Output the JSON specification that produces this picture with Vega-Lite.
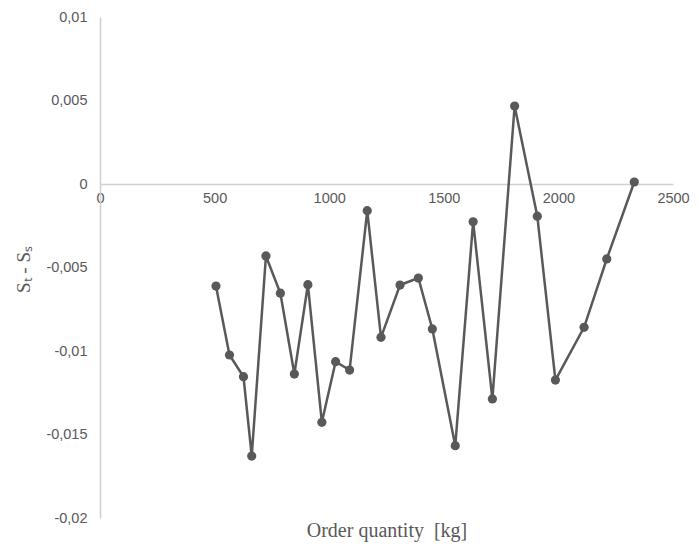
{
  "$schema": "https://vega.github.io/schema/vega-lite/v6.json",
  "width": 573,
  "height": 501,
  "autosize": {"type": "none"},
  "padding": {"left": 100, "top": 17, "right": 26, "bottom": 32},
  "background": "white",
  "data": {
    "values": [
      {"q": 506, "d": -0.00611},
      {"q": 565, "d": -0.01024},
      {"q": 626, "d": -0.01154},
      {"q": 662, "d": -0.01629},
      {"q": 724, "d": -0.00431},
      {"q": 787, "d": -0.00654},
      {"q": 848, "d": -0.01138},
      {"q": 907, "d": -0.00603},
      {"q": 968, "d": -0.01427},
      {"q": 1028, "d": -0.01064},
      {"q": 1089, "d": -0.01114},
      {"q": 1166, "d": -0.0016},
      {"q": 1226, "d": -0.00918},
      {"q": 1309, "d": -0.00605},
      {"q": 1389, "d": -0.00563},
      {"q": 1450, "d": -0.00868},
      {"q": 1550, "d": -0.01567},
      {"q": 1628, "d": -0.00226},
      {"q": 1712, "d": -0.01287},
      {"q": 1809, "d": 0.00467},
      {"q": 1908, "d": -0.00193},
      {"q": 1987, "d": -0.01174},
      {"q": 2112, "d": -0.00858},
      {"q": 2211, "d": -0.00449},
      {"q": 2331, "d": 0.00012}
    ]
  },
  "encoding": {
    "x": {
      "field": "q",
      "type": "quantitative",
      "scale": {"domain": [0, 2500], "nice": false, "zero": false},
      "axis": {
        "title": "Order quantity\u00a0 [kg]",
        "orient": "bottom",
        "offset": -334,
        "values": [0, 500, 1000, 1500, 2000, 2500],
        "format": "d",
        "grid": false,
        "ticks": false,
        "domainColor": "#d0d0d0",
        "domainWidth": 1.5,
        "labelFont": "Liberation Sans",
        "labelFontSize": 14.5,
        "labelColor": "#595959",
        "labelPadding": 7,
        "labelFlush": false,
        "titleFont": "Liberation Serif",
        "titleFontSize": 20,
        "titleFontWeight": "normal",
        "titleColor": "#595959",
        "titleY": 352,
        "titleBaseline": "alphabetic"
      }
    },
    "y": {
      "field": "d",
      "type": "quantitative",
      "scale": {"domain": [-0.02, 0.01], "nice": false, "zero": false},
      "axis": {
        "title": "Sₜ - Sₛ",
        "values": [-0.02, -0.015, -0.01, -0.005, 0, 0.005, 0.01],
        "labelExpr": "replace(toString(datum.value), '.', ',')",
        "grid": false,
        "ticks": false,
        "domainColor": "#d0d0d0",
        "domainWidth": 1.5,
        "labelFont": "Liberation Sans",
        "labelFontSize": 14.5,
        "labelColor": "#595959",
        "labelPadding": 13,
        "labelFlush": false,
        "titleFont": "Liberation Serif",
        "titleFontSize": 19,
        "titleFontWeight": "normal",
        "titleColor": "#595959",
        "titleX": -77,
        "titleY": 252,
        "titleAlign": "center",
        "titleBaseline": "middle",
        "titleAngle": 270
      }
    }
  },
  "layer": [
    {"mark": {"type": "line", "color": "#595959", "strokeWidth": 2.5}},
    {"mark": {"type": "point", "filled": true, "color": "#595959", "opacity": 1, "size": 85}}
  ],
  "config": {"view": {"stroke": null}}
}
